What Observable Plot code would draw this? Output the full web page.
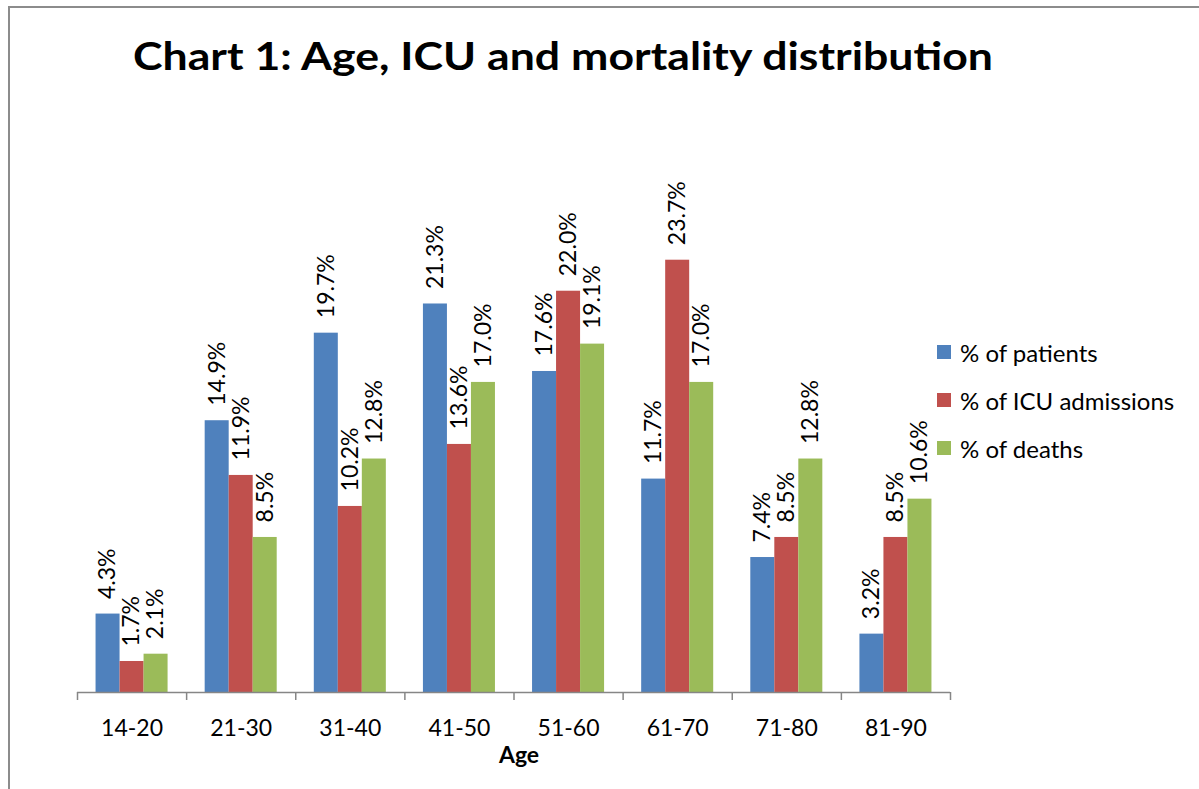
<!DOCTYPE html>
<html><head><meta charset="utf-8">
<script src="https://cdn.jsdelivr.net/npm/d3@7"></script>
<script src="https://cdn.jsdelivr.net/npm/@observablehq/plot@0.6"></script>
<style>
body{margin:0;background:#fff;font-family:Lato,"Open Sans",sans-serif;}
#wrap{position:relative;width:1199px;height:789px;overflow:hidden;background:#fff;}
#frame{position:absolute;left:8px;top:6px;width:1300px;height:900px;border-left:2px solid #8c8c8c;border-top:2px solid #8c8c8c;}
#title{position:absolute;left:133px;top:36px;font-weight:700;font-size:39px;line-height:39px;white-space:nowrap;transform-origin:left top;color:#000;}
#chart{position:absolute;left:0;top:110px;}
.lg{position:absolute;left:937px;height:26px;display:flex;align-items:center;font-size:24px;color:#000;white-space:nowrap;}
.lg span.sw{display:inline-block;width:14px;height:14px;margin-right:9px;}
</style>
</head><body>
<div id="wrap">
<div id="frame"></div>
<div id="title">Chart 1: Age, ICU and mortality distribution</div>
<div id="chart"></div>
<div id="legend"></div>
</div>
<script>
const categories = ["14-20","21-30","31-40","41-50","51-60","61-70","71-80","81-90"];
const seriesNames = ["% of patients","% of ICU admissions","% of deaths"];
const patients = [4.3,14.9,19.7,21.3,17.6,11.7,7.4,3.2];
const icu = [1.7,11.9,10.2,13.6,22.0,23.7,8.5,8.5];
const deaths = [2.1,8.5,12.8,17.0,19.1,17.0,12.8,10.6];
const colors = ["#4F81BD","#C0504D","#9BBB59"];
const axisTitle = "Age";

const seriesValues = [patients, icu, deaths];
const barFrac = 0.22, groupOff = (1 - 3*barFrac)/2;
const rows = [];
categories.forEach((c,i)=>{
  seriesValues.forEach((vals,j)=>{
    const x1 = i + groupOff + j*barFrac;
    rows.push({cat:c, series:seriesNames[j], value:vals[i], x1, x2:x1+barFrac});
  });
});

const chart = Plot.plot({
  width:1199, height:679,
  marginLeft:77, marginRight:249, marginTop:126, marginBottom:97,
  x:{domain:[0,categories.length], axis:null},
  y:{domain:[0,25], axis:null},
  color:{domain:seriesNames, range:colors},
  style:{fontFamily:"Lato, 'Open Sans', sans-serif", fontSize:"23px", color:"#000", background:"transparent"},
  marks:[
    Plot.rectY(rows,{x1:"x1", x2:"x2", y:"value", fill:"series"}),
    Plot.text(rows,{x:d=>(d.x1+d.x2)/2, y:"value", text:d=>d.value.toFixed(1)+"%", rotate:-90, textAnchor:"start", lineAnchor:"middle", dy:-15, fontSize:23, fill:"#000"}),
    Plot.ruleY([0],{stroke:"#868686", strokeWidth:1.5}),
    Plot.axisX(d3.range(0,categories.length+1),{tickSize:8, tickFormat:()=>"", stroke:"#868686", strokeWidth:1.5, label:null}),
    Plot.axisX(d3.range(categories.length).map(i=>i+0.5),{tickSize:0, tickPadding:27, tickFormat:d=>categories[Math.floor(d)], fontSize:23, fill:"#000", label:null}),
    Plot.text([axisTitle],{text:d=>d, frameAnchor:"bottom", dy:70, dx:5, fontWeight:"bold", fontSize:23, fill:"#000"})
  ]
});
document.getElementById("chart").appendChild(chart);

const legend = document.getElementById("legend");
const centers = [352,400,448];
seriesNames.forEach((s,j)=>{
  const d = document.createElement("div");
  d.className = "lg";
  d.style.top = (centers[j]-13)+"px";
  d.innerHTML = `<span class="sw" style="background:${colors[j]}"></span><span>${s}</span>`;
  legend.appendChild(d);
});

const t = document.getElementById("title");
const w = t.getBoundingClientRect().width;
t.style.transform = `scaleX(${860/w})`;
</script>
</body></html>
